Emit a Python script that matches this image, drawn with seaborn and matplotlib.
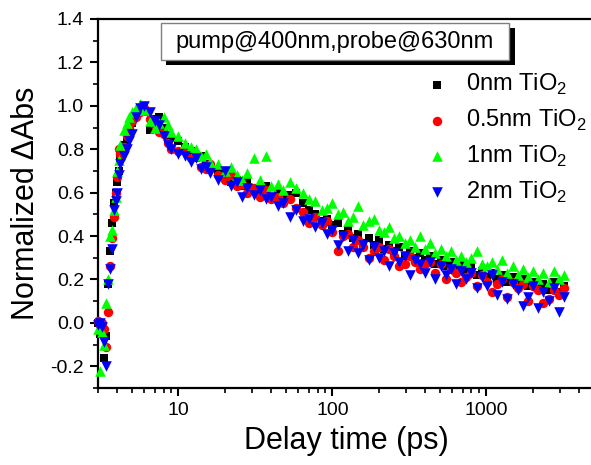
import numpy as np
import pandas as pd
import matplotlib
matplotlib.use("Agg")
import matplotlib.pyplot as plt
import matplotlib.ticker as mticker
from matplotlib.patches import Rectangle
import seaborn as sns

# ---------------- data ----------------
delay_ps = [3.0, 3.1, 3.2, 3.3, 3.4, 3.5, 3.6, 3.7, 3.8, 3.9, 4.0, 4.1, 4.2, 4.4, 4.6, 4.8,
            5.0, 5.3, 5.6, 6.0, 6.5, 7.0, 7.5, 8.0, 8.5, 9.0, 10, 11, 12, 13, 14, 15, 16,
            18, 20, 22, 24, 26, 28, 31, 34, 37, 40, 44, 48, 53, 58, 64, 70, 77, 85, 92,
            100, 108, 117, 126, 136, 147, 159, 172, 185, 200, 216, 233, 252, 272, 294,
            317, 343, 370, 400, 432, 466, 504, 544, 587, 634, 685, 740, 799, 863, 932,
            1006, 1087, 1174, 1268, 1369, 1479, 1597, 1725, 1863, 2012, 2173, 2347,
            2535, 2737, 2956, 3193]

abs_0nm = [0.00, -0.05, -0.02, -0.16, -0.06, 0.18, 0.33, 0.46, 0.55, 0.60, 0.65, 0.70, 0.76,
           0.82, 0.84, 0.88, 0.92, 0.96, 0.99, 0.97, 0.89, 0.94, 0.95, 0.90, 0.86, 0.85,
           0.84, 0.81, 0.79, 0.76, 0.77, 0.73, 0.72, 0.69, 0.70, 0.65, 0.66, 0.63, 0.65,
           0.62, 0.61, 0.63, 0.58, 0.60, 0.57, 0.59, 0.60,
           0.55, 0.52, 0.50, 0.47, 0.48,
           0.45, 0.46, 0.41, 0.43, 0.39, 0.41, 0.37, 0.39, 0.36, 0.38,
           0.34, 0.36, 0.33, 0.35, 0.31, 0.33, 0.30, 0.32, 0.29, 0.31,
           0.27, 0.29, 0.26, 0.28, 0.25, 0.27, 0.24, 0.26, 0.22, 0.24,
           0.21, 0.23, 0.20, 0.22, 0.19, 0.21, 0.18, 0.20, 0.17, 0.19,
           0.16, 0.18, 0.15, 0.19, 0.14, 0.17]

abs_05nm = [0.01, -0.01, 0.00, -0.03, -0.11, 0.05, 0.26, 0.39, 0.49, 0.60, 0.67, 0.80, 0.78,
            0.81, 0.86, 0.90, 0.93, 0.95, 0.97, 0.99, 0.94, 0.91, 0.88, 0.87, 0.83, 0.80,
            0.79, 0.80, 0.76, 0.78, 0.72, 0.71, 0.73, 0.68, 0.66, 0.68, 0.63, 0.64, 0.60,
            0.62, 0.58, 0.61, 0.57, 0.58, 0.55, 0.57, 0.53,
            0.51, 0.46, 0.49, 0.45, 0.47,
            0.42, 0.33, 0.40, 0.41, 0.35, 0.38, 0.35, 0.30, 0.33, 0.35,
            0.29, 0.34, 0.31, 0.26, 0.27, 0.31, 0.28, 0.25, 0.27, 0.28,
            0.23, 0.27, 0.20, 0.25, 0.23, 0.19, 0.21, 0.23, 0.17, 0.22,
            0.19, 0.14, 0.18, 0.20, 0.12, 0.19, 0.16, 0.18, 0.10, 0.17,
            0.15, 0.09, 0.11, 0.15, 0.13, 0.16]

abs_1nm = [-0.03, -0.22, -0.04, -0.10, 0.09, 0.20, 0.40, 0.43, 0.52, 0.58, 0.70, 0.75, 0.82,
           0.89, 0.92, 0.95, 0.97, 0.99, 1.01, 0.98, 0.93, 0.90, 0.92, 0.95, 0.91, 0.88,
           0.86, 0.83, 0.81, 0.80, 0.77, 0.78, 0.74, 0.73, 0.70, 0.72, 0.68, 0.66, 0.69,
           0.76, 0.66, 0.77, 0.63, 0.64, 0.61, 0.65, 0.62,
           0.60, 0.57, 0.56, 0.52, 0.53,
           0.55, 0.50, 0.51, 0.47, 0.49, 0.54, 0.45, 0.47, 0.48, 0.43,
           0.42, 0.44, 0.39, 0.40, 0.37, 0.38, 0.35, 0.40, 0.34, 0.37,
           0.32, 0.34, 0.31, 0.33, 0.29, 0.31, 0.28, 0.30, 0.33, 0.27,
           0.26, 0.28, 0.25, 0.29, 0.23, 0.26, 0.22, 0.25, 0.21, 0.24,
           0.20, 0.23, 0.19, 0.24, 0.20, 0.22]

abs_2nm = [-0.01, 0.00, -0.02, -0.09, -0.20, 0.18, 0.25, 0.34, 0.52, 0.56, 0.60, 0.68, 0.73,
           0.77, 0.80, 0.84, 0.87, 0.95, 0.99, 1.00, 0.97, 0.93, 0.91, 0.86, 0.82, 0.80,
           0.78, 0.77, 0.74, 0.76, 0.71, 0.72, 0.69, 0.66, 0.70, 0.63, 0.65, 0.58, 0.62,
           0.59, 0.61, 0.57, 0.58, 0.54, 0.55, 0.49, 0.52,
           0.47, 0.48, 0.44, 0.46, 0.41,
           0.43, 0.36, 0.40, 0.33, 0.38, 0.32, 0.36, 0.29, 0.35, 0.30,
           0.33, 0.26, 0.32, 0.28, 0.31, 0.22, 0.29, 0.27, 0.23, 0.28,
           0.20, 0.26, 0.22, 0.25, 0.18, 0.24, 0.20, 0.23, 0.16, 0.21,
           0.17, 0.22, 0.13, 0.19, 0.11, 0.18, 0.15, 0.08, 0.12, 0.17,
           0.07, 0.14, 0.10, 0.16, 0.05, 0.12]

series_labels = ["0nm TiO$_\\mathregular{2}$", "0.5nm TiO$_\\mathregular{2}$",
                 "1nm TiO$_\\mathregular{2}$", "2nm TiO$_\\mathregular{2}$"]
series_values = [abs_0nm, abs_05nm, abs_1nm, abs_2nm]
series_colors = ["#000000", "#FF0000", "#00FF00", "#0000FF"]
series_markers = ["s", "o", "^", "v"]
series_sizes = [30, 46, 58, 58]

title_text = "pump@400nm,probe@630nm"
x_ticks = [10, 100, 1000]
y_ticks = [-0.2, 0.0, 0.2, 0.4, 0.6, 0.8, 1.0, 1.2, 1.4]

# ---------------- style ----------------
sns.set_style("ticks", {"axes.edgecolor": "black", "text.color": "black",
                        "xtick.color": "black", "ytick.color": "black",
                        "axes.labelcolor": "black"})
plt.rcParams["font.family"] = ["Liberation Sans", "DejaVu Sans"]
plt.rcParams["mathtext.fontset"] = "custom"
plt.rcParams["mathtext.rm"] = "Liberation Sans"

W, H = 591, 465
fig = plt.figure(figsize=(W / 100, H / 100), dpi=100)
ax_l, ax_r, ax_t, ax_b = 98, 594, 19, 388
ax = fig.add_axes([ax_l / W, 1 - ax_b / H, (ax_r - ax_l) / W, (ax_b - ax_t) / H])

for lab, vals, col, mk, sz in zip(series_labels, series_values, series_colors,
                                  series_markers, series_sizes):
    df = pd.DataFrame({"t": delay_ps, "v": vals})
    sns.scatterplot(data=df, x="t", y="v", ax=ax, color=col, marker=mk, s=sz,
                    linewidth=0, label=lab, clip_on=False, zorder=3)

ax.set_xscale("log")
ax.set_xlim(3, 5000)
ax.set_ylim(-0.3, 1.4)
ax.xaxis.set_major_locator(mticker.FixedLocator(x_ticks))
ax.xaxis.set_major_formatter(mticker.FuncFormatter(lambda v, p: f"{int(v)}"))
ax.xaxis.set_minor_locator(mticker.LogLocator(base=10, subs=np.arange(2, 10)))
ax.xaxis.set_minor_formatter(mticker.NullFormatter())
ax.yaxis.set_major_locator(mticker.FixedLocator(y_ticks))
ax.yaxis.set_major_formatter(mticker.FuncFormatter(lambda v, p: f"{v:.1f}"))
ax.yaxis.set_minor_locator(mticker.MultipleLocator(0.1))

ax.tick_params(which="major", direction="out", length=6, width=1.5, labelsize=14,
               pad=4, top=False, right=False, colors="black")
ax.tick_params(which="minor", direction="out", length=3.5, width=1.2, top=False,
               right=False, colors="black")
for sp in ax.spines.values():
    sp.set_linewidth(1.6)
    sp.set_color("black")
    sp.set_visible(True)

ax.set_xlabel("Delay time (ps)", fontsize=22, labelpad=5, color="black")
ax.set_ylabel("Normalized \u0394Abs", fontsize=22, labelpad=7, color="black")

leg = ax.legend(loc="upper left", bbox_to_anchor=(425 / W, 1 - 72 / H),
                bbox_transform=fig.transFigure, frameon=False, fontsize=17,
                handletextpad=0.75, labelspacing=0.45, handlelength=1.0,
                borderaxespad=0, borderpad=0)

# title box with shadow (figure pixel coordinates)
def px_rect(x0, y0, x1, y1, **kw):
    return Rectangle((x0 / W, 1 - y1 / H), (x1 - x0) / W, (y1 - y0) / H,
                     transform=fig.transFigure, **kw)

fig.patches.append(px_rect(166, 28, 515, 65, facecolor="black", edgecolor="none", zorder=5))
fig.patches.append(px_rect(161, 23, 509, 60, facecolor="white", edgecolor="#7f7f7f",
                           linewidth=1.0, zorder=6))
fig.text(335 / W, 1 - 42 / H, title_text, ha="center", va="center", fontsize=17,
         color="black", zorder=7)

fig.savefig("out.png", dpi=100)
